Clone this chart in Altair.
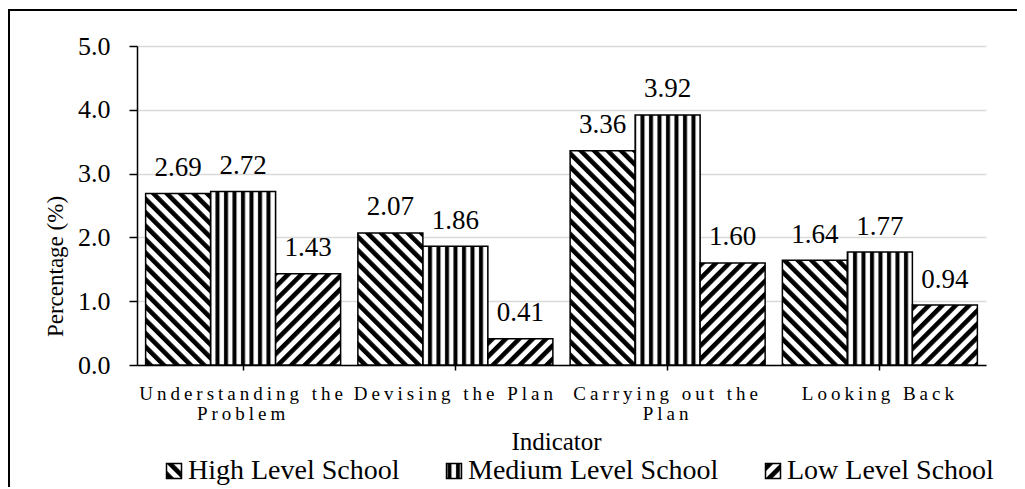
import json
import altair as alt
import pandas as pd
import jinja2

# ---------------- data ----------------
indicators = ["Understanding the Problem", "Devising the Plan",
              "Carrying out the Plan", "Looking Back"]
label_lines = {
    "Understanding the Problem": ["Understanding the", "Problem"],
    "Carrying out the Plan": ["Carrying out the", "Plan"],
}
schools = ["High Level School", "Medium Level School", "Low Level School"]
high = [2.69, 2.07, 3.36, 1.64]
medium = [2.72, 1.86, 3.92, 1.77]
low = [1.43, 0.41, 1.60, 0.94]
y_ticks = [0, 1, 2, 3, 4, 5]

rows = []
for i, ind in enumerate(indicators):
    for s, vals in zip(schools, [high, medium, low]):
        rows.append({"Indicator": ind, "School": s, "Value": vals[i]})
df = pd.DataFrame(rows)

fills = ["url(#hatch-high)", "url(#hatch-med)", "url(#hatch-low)"]

label_expr = "datum.label"
for k, v in label_lines.items():
    label_expr = f"datum.label == {json.dumps(k)} ? {json.dumps(v)} : ({label_expr})"

SERIF = "Liberation Serif, serif"

base = alt.Chart(df).encode(
    x=alt.X(
        "Indicator:N",
        sort=indicators,
        scale=alt.Scale(paddingInner=0.0813, paddingOuter=0.0406),
        axis=alt.Axis(
            title="Indicator",
            labelAngle=0,
            labelExpr=label_expr,
            labelFont=SERIF,
            labelFontSize=19,
            labelLineHeight=20,
            labelPadding=14,
            labelLimit=0,
            labelOverlap=False,
            labelColor="black",
            ticks=True,
            tickSize=5,
            tickColor="black",
            tickWidth=1.5,
            domainColor="black",
            domainWidth=1.5,
            grid=False,
            titleFont=SERIF,
            titleFontSize=25,
            titleFontWeight="normal",
            titleColor="black",
            titleX=419,
            titleY=84,
            titleBaseline="alphabetic",
        ),
    ),
    xOffset=alt.XOffset("School:N", sort=schools,
                        scale=alt.Scale(paddingInner=0, paddingOuter=0)),
    y=alt.Y(
        "Value:Q",
        scale=alt.Scale(domain=[0, 5]),
        axis=alt.Axis(
            title="Percentage (%)",
            values=y_ticks,
            format=".1f",
            labelFont=SERIF,
            labelFontSize=26,
            labelColor="black",
            labelPadding=19,
            tickSize=8,
            tickColor="black",
            tickWidth=1.5,
            domainColor="black",
            domainWidth=1.5,
            grid=True,
            gridColor="#d9d9d9",
            gridWidth=1.5,
            titleFont=SERIF,
            titleFontSize=23,
            titleFontWeight="normal",
            titleColor="black",
            titleAngle=270,
            titleAlign="center",
            titleBaseline="alphabetic",
            titleX=-75,
            titleY=220,
        ),
    ),
)

bars = base.mark_bar(stroke="black", strokeWidth=1.5).encode(
    color=alt.Color(
        "School:N",
        sort=schools,
        scale=alt.Scale(domain=schools, range=fills),
        legend=alt.Legend(
            title=None,
            orient="none",
            legendX=23,
            legendY=411,
            direction="horizontal",
            symbolType="square",
            symbolSize=225,
            symbolStrokeColor="black",
            symbolStrokeWidth=1.5,
            labelFont=SERIF,
            labelFontSize=28,
            labelColor="black",
            labelOffset=0,
            labelLimit=0,
            columnPadding=40,
            padding=0,
        ),
    )
)

labels = base.mark_text(
    font=SERIF, fontSize=27, baseline="alphabetic", dy=-17.5, color="black"
).encode(text=alt.Text("Value:Q", format=".2f"))

chart = (
    alt.layer(bars, labels)
    .properties(
        width=849,
        height=319,
        autosize="none",
        padding={"left": 127, "top": 35, "right": 30, "bottom": 122},
        background="white",
    )
    .configure_view(stroke=None)
)

TEMPLATE = jinja2.Template("""<!DOCTYPE html>
<html>
<head>
  <style>
    body { background: #fff; }
    #{{ output_div }} { border-top: 2px solid #000; border-left: 2px solid #000; margin-top: 1px; }
    #{{ output_div }}.vega-embed { width: 100%; display: flex; }
    text[font-size="19px"] { letter-spacing: 4px; }
  </style>
  <script type="text/javascript" src="{{ base_url }}/vega@{{ vega_version }}"></script>
  <script type="text/javascript" src="{{ base_url }}/vega-lite@{{ vegalite_version }}"></script>
  <script type="text/javascript" src="{{ base_url }}/vega-embed@{{ vegaembed_version }}"></script>
</head>
<body>
  <svg width="0" height="0" style="position:absolute">
    <defs>
      <pattern id="hatch-high" patternUnits="userSpaceOnUse" width="9.5" height="9.5" patternTransform="rotate(-45)">
        <rect width="9.5" height="9.5" fill="#fff"/>
        <rect x="0" y="0" width="4.6" height="9.5" fill="#000"/>
      </pattern>
      <pattern id="hatch-med" patternUnits="userSpaceOnUse" width="8.5" height="8.5">
        <rect width="8.5" height="8.5" fill="#fff"/>
        <rect x="2" y="0" width="4" height="8.5" fill="#000"/>
      </pattern>
      <pattern id="hatch-low" patternUnits="userSpaceOnUse" width="9.5" height="9.5" patternTransform="rotate(45)">
        <rect width="9.5" height="9.5" fill="#fff"/>
        <rect x="0" y="0" width="4.6" height="9.5" fill="#000"/>
      </pattern>
    </defs>
  </svg>
  <div id="{{ output_div }}"></div>
  <script>
    (function(vegaEmbed) {
      var spec = {{ spec }};
      var embedOpt = {{ embed_options }};
      function showError(el, error){
        el.innerHTML = ('<div style="color:red;"><p>JavaScript Error: ' + error.message + '</p></div>');
        throw error;
      }
      const el = document.getElementById('{{ output_div }}');
      vegaEmbed("#{{ output_div }}", spec, embedOpt).catch(error => showError(el, error));
    })(vegaEmbed);
  </script>
</body>
</html>
""")

chart.save("out.html", embed_options={"renderer": "svg", "actions": False},
           template=TEMPLATE)
